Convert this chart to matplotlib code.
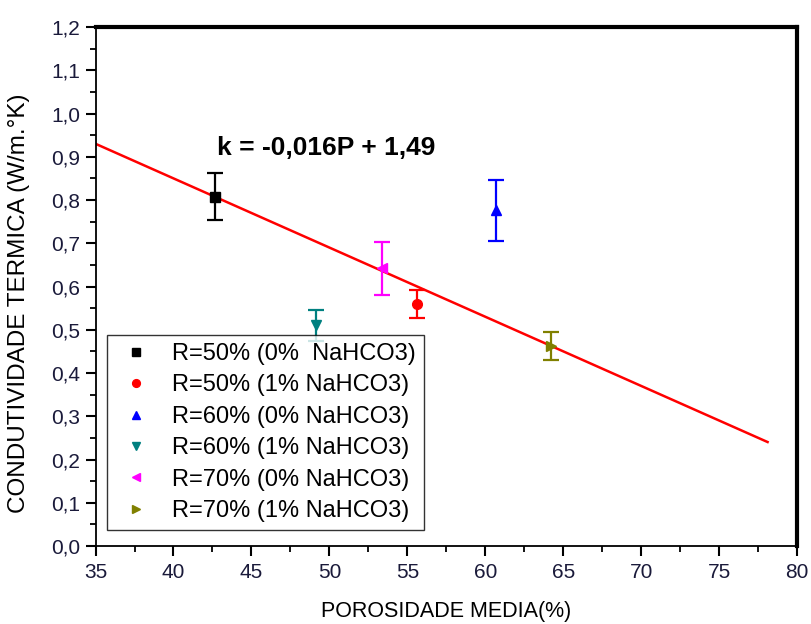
import matplotlib
matplotlib.use("Agg")
import matplotlib.pyplot as plt
from matplotlib.ticker import MultipleLocator, FuncFormatter
import numpy as np

plt.rcParams['font.family'] = ['Liberation Sans', 'DejaVu Sans']

# dados
labels = ["R=50% (0%  NaHCO3)", "R=50% (1% NaHCO3)", "R=60% (0% NaHCO3)",
          "R=60% (1% NaHCO3)", "R=70% (0% NaHCO3)", "R=70% (1% NaHCO3)"]
porosidade = [42.66, 55.6, 60.67, 49.13, 53.35, 64.24]
condutividade = [0.808, 0.560, 0.776, 0.510, 0.642, 0.462]
erro = [0.055, 0.032, 0.070, 0.036, 0.061, 0.033]
cores = ["black", "red", "blue", "#008080", "magenta", "#808000"]
marcadores = ["s", "o", "^", "v", "<", ">"]

# ajuste linear k = a*P + b
a, b = -0.016, 1.49
p_ini, p_fim = 35.0, 78.1

fig = plt.figure(figsize=(8.11, 6.24), dpi=100)
ax = fig.add_axes([0.1178, 0.125, 0.8652, 0.8317])

p = np.linspace(p_ini, p_fim, 50)
ax.plot(p, a * p + b, color="red", lw=1.8, zorder=2)

for x, y, e, c, m, lab in zip(porosidade, condutividade, erro, cores, marcadores, labels):
    ax.errorbar(x, y, yerr=e, fmt=m, color=c, ecolor=c, markersize=7,
                elinewidth=1.6, capsize=6, capthick=1.6, label=lab, zorder=3)

ax.text(42.8, 0.905, "k = -0,016P + 1,49", fontsize=19, fontweight="bold")

ax.set_xlim(35, 80)
ax.set_ylim(0, 1.2)
ax.xaxis.set_major_locator(MultipleLocator(5))
ax.xaxis.set_minor_locator(MultipleLocator(2.5))
ax.yaxis.set_major_locator(MultipleLocator(0.1))
ax.yaxis.set_minor_locator(MultipleLocator(0.05))
ax.yaxis.set_major_formatter(FuncFormatter(lambda v, _: f"{v:.1f}".replace(".", ",")))
ax.tick_params(which="major", direction="out", length=7, width=1.5, labelsize=15,
               labelcolor="#1a1a3a")
ax.tick_params(which="minor", direction="out", length=4, width=1.3)
ax.tick_params(axis="y", pad=4)
ax.tick_params(axis="x", pad=5)

for s in ["left", "bottom"]:
    ax.spines[s].set_linewidth(1.3)
for s in ["top", "right"]:
    ax.spines[s].set_linewidth(3.0)

ax.set_xlabel("POROSIDADE MEDIA(%)", fontsize=15.5, labelpad=14)
ax.set_ylabel("CONDUTIVIDADE TERMICA (W/m.\u00b0K)", fontsize=17.5)
ax.yaxis.set_label_coords(-0.094, 0.467)

handles, labs = ax.get_legend_handles_labels()
handles = [h[0] for h in handles]
leg = ax.legend(handles, labs, loc="lower left", bbox_to_anchor=(0.016, 0.03),
                fontsize=17, frameon=True, fancybox=False, edgecolor="black",
                handlelength=1.75, handletextpad=0.68, borderpad=0.35,
                labelspacing=0.4, markerscale=0.8, borderaxespad=0)
leg.get_frame().set_linewidth(1.0)

fig.savefig("out.png", dpi=100)
